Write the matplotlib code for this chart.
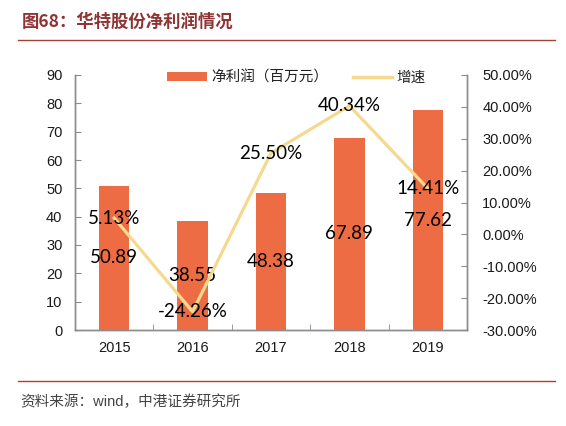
import matplotlib
matplotlib.use("Agg")
import matplotlib.pyplot as plt
from matplotlib.patches import Patch
from matplotlib.lines import Line2D
import numpy as np

years = ["2015", "2016", "2017", "2018", "2019"]
profit = [50.89, 38.55, 48.38, 67.89, 77.62]
growth = [5.13, -24.26, 25.50, 40.34, 14.41]
left_ticks = [0, 10, 20, 30, 40, 50, 60, 70, 80, 90]
right_ticks = [-30, -20, -10, 0, 10, 20, 30, 40, 50]

BAR = "#EE6C44"
LINE = "#F4D98E"
SPINE = "#8C8C8C"
TXT = "#1a1a1a"

plt.rcParams['font.family'] = ['Liberation Sans', 'Noto Sans CJK SC', 'DejaVu Sans']

fig = plt.figure(figsize=(5.66, 4.26), dpi=100)
ax = fig.add_axes([75/566, 1-330/426, 392/566, 255/426])
ax2 = ax.twinx()

x = np.arange(len(years))
bars = ax.bar(x, profit, width=0.39, color=BAR, zorder=2)
ax.set_xlim(-0.5, len(years)-0.5)
ax.set_ylim(0, 90)
ax.set_yticks(left_ticks)
ax.set_yticklabels([str(v) for v in left_ticks], fontsize=10.5, color=TXT)
ax.set_xticks(x)
ax.set_xticklabels(years, fontsize=10.5, color=TXT)
ax.tick_params(axis='x', length=0, pad=8)
ax.set_xticks(np.arange(-0.5, len(years)), minor=True)
ax.tick_params(axis='x', which='minor', direction='in', length=4, color=SPINE)
ax.tick_params(axis='y', direction='in', length=4, color=SPINE, pad=9)

ax2.plot(x, growth, color=LINE, lw=2.3, zorder=3)
ax2.set_ylim(-30, 50)
ax2.set_yticks(right_ticks)
ax2.set_yticklabels([f"{v:.2f}%" for v in right_ticks], fontsize=10.5, color=TXT)
ax2.tick_params(axis='y', direction='in', length=4, color=SPINE, pad=11)

for a in (ax, ax2):
    a.spines['top'].set_visible(False)
    for s in ('left', 'right', 'bottom'):
        a.spines[s].set_color(SPINE)
        a.spines[s].set_linewidth(1.0)

ax.set_zorder(ax2.get_zorder() - 1)
ax.patch.set_visible(False)

# bar labels (centered in bars)
for xi, v in zip(x, profit):
    ax.text(xi, v/2, f"{v:.2f}", ha='center', va='center', fontsize=13.5,
            family=['Lato', 'DejaVu Sans'], color='black', zorder=5)
# growth labels at points
for xi, v in zip(x, growth):
    ax2.text(xi, v, f"{v:.2f}%", ha='center', va='center', fontsize=13.5,
             family=['Lato', 'DejaVu Sans'], color='black', zorder=5)

handles = [Patch(facecolor=BAR, edgecolor='none', label='净利润（百万元）'),
           Line2D([0], [0], color=LINE, lw=2.5, label='增速')]
leg = ax2.legend(handles=handles, ncol=2, frameon=False, loc='center',
                 bbox_to_anchor=(0.565, 0.99), fontsize=10.5,
                 handlelength=2.7, handleheight=0.55, handletextpad=0.3,
                 columnspacing=1.7, borderpad=0)
for t in leg.get_texts():
    t.set_color('#222222')
    t.set_family(['Noto Sans CJK SC', 'DejaVu Sans'])

# title and lines
fig.text(22/566, 1-22/426, "图68：华特股份净利润情况", fontsize=12.5, fontweight='bold',
         color='#8E3434', family=['Noto Sans CJK SC', 'DejaVu Sans'], va='center', ha='left')
fig.add_artist(Line2D([18/566, 555/566], [1-40/426, 1-40/426], color='#A5403A', lw=1.0))
fig.add_artist(Line2D([18/566, 555/566], [1-381/426, 1-381/426], color='#C0392B', lw=1.0))
fig.text(20/566, 1-402/426, "资料来源：wind，中港证券研究所", fontsize=10.5,
         color='#444444', family=['Liberation Sans', 'Noto Sans CJK SC', 'DejaVu Sans'],
         va='center', ha='left')

fig.savefig("out.png", dpi=100)
